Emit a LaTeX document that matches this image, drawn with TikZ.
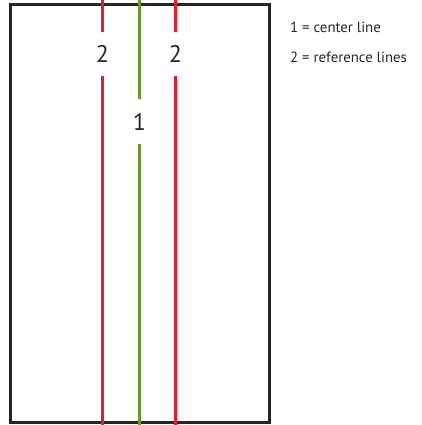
\documentclass[tikz,border=0pt]{standalone}
\usepackage{fontspec}
\setmainfont{PT Sans}
\usetikzlibrary{positioning}
\definecolor{refred}{RGB}{237,28,36}
\definecolor{cgreen}{RGB}{105,155,45}
\tikzset{
  frame/.style={draw=black!85, line width=3pt},
  refline/.style={draw=refred, line width=2.6pt},
  cenline/.style={draw=cgreen, line width=2.6pt},
  numlabel/.style={inner sep=0pt, minimum height=44pt, font=\fontsize{24}{26}\selectfont, text=black!85},
  legend/.style={anchor=west, inner sep=0pt, font=\fontsize{14.8}{17}\selectfont, text=black!85}
}
\begin{document}
\begin{tikzpicture}[x=1pt,y=-1pt]
  \useasboundingbox (0,0) rectangle (422,425);
  % sheet outline
  \draw[frame] (10,5) rectangle (269,422);
  % reference lines (2)
  \coordinate (lefttop) at (102.5,0);
  \coordinate (leftbot) at (102.5,425);
  \coordinate (righttop) at (175.5,0);
  \coordinate (rightbot) at (175.5,425);
  \node[numlabel] (leftref) at (102.5,54) {2};
  \node[numlabel] (rightref) at (175.5,54) {2};
  \draw[refline] (lefttop) -- (leftref.north);
  \draw[refline] (leftref.south) -- (leftbot);
  \draw[refline] (righttop) -- (rightref.north);
  \draw[refline] (rightref.south) -- (rightbot);
  % center line (1)
  \coordinate (centop) at (139.5,0);
  \coordinate (cenbot) at (139.5,425);
  \node[numlabel, minimum height=45pt] (center) at (139.5,121.5) {1};
  \draw[cenline] (centop) -- (center.north);
  \draw[cenline] (center.south) -- (cenbot);
  % legend
  \node[legend] (leg1) at (290,27) {1 = center line};
  \node[legend] (leg2) at (290,57) {2 = reference lines};
\end{tikzpicture}
\end{document}
